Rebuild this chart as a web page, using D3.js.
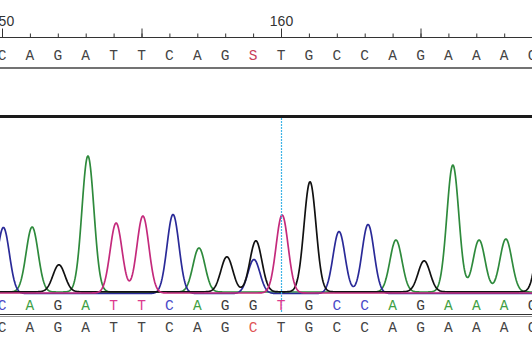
<!DOCTYPE html>
<html>
<head>
<meta charset="utf-8">
<script src="https://cdn.jsdelivr.net/npm/d3@7"></script>
<style>
  body { margin: 0; background: #fff; }
  svg { display: block; }
</style>
</head>
<body>
<div id="chart"></div>
<script>
// base positions shown in the window
var positions = [150, 151, 152, 153, 154, 155, 156, 157, 158, 159,
                 160, 161, 162, 163, 164, 165, 166, 167, 168, 169];
var refTop    = ["C","A","G","A","T","T","C","A","G","S","T","G","C","C","A","G","A","A","A","C"];
var called    = ["C","A","G","A","T","T","C","A","G","G","T","G","C","C","A","G","A","A","A","G"];
var refBottom = ["C","A","G","A","T","T","C","A","G","C","T","G","C","C","A","G","A","A","A","C"];
var majorTicks = [150, 155, 160, 165];
var tickLabels = [150, 160];
var markedPos = 160;

// trace peaks per channel: [base position, signal height]
var peaksA = [[151.08, 65], [153.08, 136], [157.06, 44], [164.12, 52], [166.16, 127], [167.10, 52], [168.06, 53]];
var peaksC = [[150.05, 66], [156.13, 79], [159.03, 34], [162.08, 62], [163.12, 69]];
var peaksG = [[152.04, 27], [158.06, 35], [159.10, 51], [161.04, 110], [165.13, 31], [169.40, 85]];
var peaksT = [[154.09, 70], [155.05, 77], [160.04, 78]];

var baseColors = { A: "#3f9f45", C: "#4a4ac8", G: "#3c3c3c", T: "#dd3a8f" };
var traceColors = { A: "#2e8a3c", C: "#2a2a98", G: "#111111", T: "#c42a7c" };

var width = 532, height = 344;

var svg = d3.select("#chart")
    .append("svg")
    .attr("width", width)
    .attr("height", height);

// x: one base every ~27.9 px
var x = d3.scaleLinear()
    .domain([150, 170])
    .range([2, 560]);

// y: signal, baseline at 293
var y = d3.scaleLinear()
    .domain([0, 140])
    .range([293, 153]);

// top ruler
svg.append("line")
    .attr("x1", 0).attr("x2", width)
    .attr("y1", 37.5).attr("y2", 37.5)
    .attr("stroke", "#333").attr("stroke-width", 1);

var minorAxis = svg.append("g")
    .attr("transform", "translate(0,37.5)")
    .call(d3.axisTop(x).tickValues(positions).tickSize(4).tickSizeOuter(0).tickFormat(""));
minorAxis.select(".domain").remove();
minorAxis.selectAll("line").attr("stroke", "#333");

var majorAxis = svg.append("g")
    .attr("transform", "translate(0,37.5)")
    .call(d3.axisTop(x).tickValues(majorTicks).tickSize(9).tickSizeOuter(0).tickPadding(3)
        .tickFormat(function(d) { return tickLabels.indexOf(d) >= 0 ? d : ""; }));
majorAxis.select(".domain").remove();
majorAxis.selectAll("line").attr("stroke", "#333");
majorAxis.selectAll("text")
    .attr("fill", "#333")
    .style("font-family", "Liberation Sans, Arial, sans-serif")
    .style("font-size", "14px");

// reference sequence (top)
svg.append("g").selectAll("text")
    .data(refTop)
    .enter()
    .append("text")
    .attr("x", function(d, i) { return x(positions[i]); })
    .attr("y", 60)
    .attr("text-anchor", "middle")
    .style("font-family", "Liberation Mono, monospace")
    .style("font-size", "14.5px")
    .attr("fill", function(d) { return d === "S" ? "#c8405a" : "#444"; })
    .text(function(d) { return d; });

svg.append("line")
    .attr("x1", 0).attr("x2", width)
    .attr("y1", 68).attr("y2", 68)
    .attr("stroke", "#444").attr("stroke-width", 1.5);

// thick separator
svg.append("line")
    .attr("x1", 0).attr("x2", width)
    .attr("y1", 116.5).attr("y2", 116.5)
    .attr("stroke", "#1a1a1a").attr("stroke-width", 3);

// traces
var sigma = 0.215;
var samples = d3.range(-10, 545, 0.5).map(function(px) { return x.invert(px); });

function trace(peaks) {
    return samples.map(function(p) {
        var v = 0;
        peaks.forEach(function(pk) {
            var dz = (p - pk[0]) / sigma;
            v += pk[1] * Math.exp(-0.5 * dz * dz);
        });
        return [p, v];
    });
}

var line = d3.line()
    .x(function(d) { return x(d[0]); })
    .y(function(d) { return y(d[1]); });

var channels = [
    { key: "A", peaks: peaksA, shift: -1 },
    { key: "C", peaks: peaksC, shift: 0.5 },
    { key: "G", peaks: peaksG, shift: -1.2 },
    { key: "T", peaks: peaksT, shift: 0 }
];

svg.append("g").selectAll("path")
    .data(channels)
    .enter()
    .append("path")
    .attr("transform", function(d) { return "translate(0," + d.shift + ")"; })
    .attr("d", function(d) { return line(trace(d.peaks)); })
    .attr("fill", "none")
    .attr("stroke", function(d) { return traceColors[d.key]; })
    .attr("stroke-width", 1.7)
    .attr("stroke-linejoin", "round");

// cursor
svg.append("line")
    .attr("x1", x(markedPos) + 0.5).attr("x2", x(markedPos) + 0.5)
    .attr("y1", 118).attr("y2", 313)
    .attr("stroke", "#3fb4e6").attr("stroke-width", 1.2)
    .attr("stroke-dasharray", "2,1");

// called bases
svg.append("g").selectAll("text")
    .data(called)
    .enter()
    .append("text")
    .attr("x", function(d, i) { return x(positions[i]); })
    .attr("y", 310)
    .attr("text-anchor", "middle")
    .style("font-family", "Liberation Mono, monospace")
    .style("font-size", "14.5px")
    .attr("fill", function(d) { return baseColors[d]; })
    .text(function(d) { return d; });

svg.append("line")
    .attr("x1", 0).attr("x2", width)
    .attr("y1", 314.5).attr("y2", 314.5)
    .attr("stroke", "#333").attr("stroke-width", 1);
svg.append("line")
    .attr("x1", 0).attr("x2", width)
    .attr("y1", 316.5).attr("y2", 316.5)
    .attr("stroke", "#999").attr("stroke-width", 1);

// reference sequence (bottom)
svg.append("g").selectAll("text")
    .data(refBottom)
    .enter()
    .append("text")
    .attr("x", function(d, i) { return x(positions[i]); })
    .attr("y", 332)
    .attr("text-anchor", "middle")
    .style("font-family", "Liberation Mono, monospace")
    .style("font-size", "14.5px")
    .attr("fill", function(d, i) { return positions[i] === 159 ? "#e05555" : "#444"; })
    .text(function(d) { return d; });
</script>
</body>
</html>
